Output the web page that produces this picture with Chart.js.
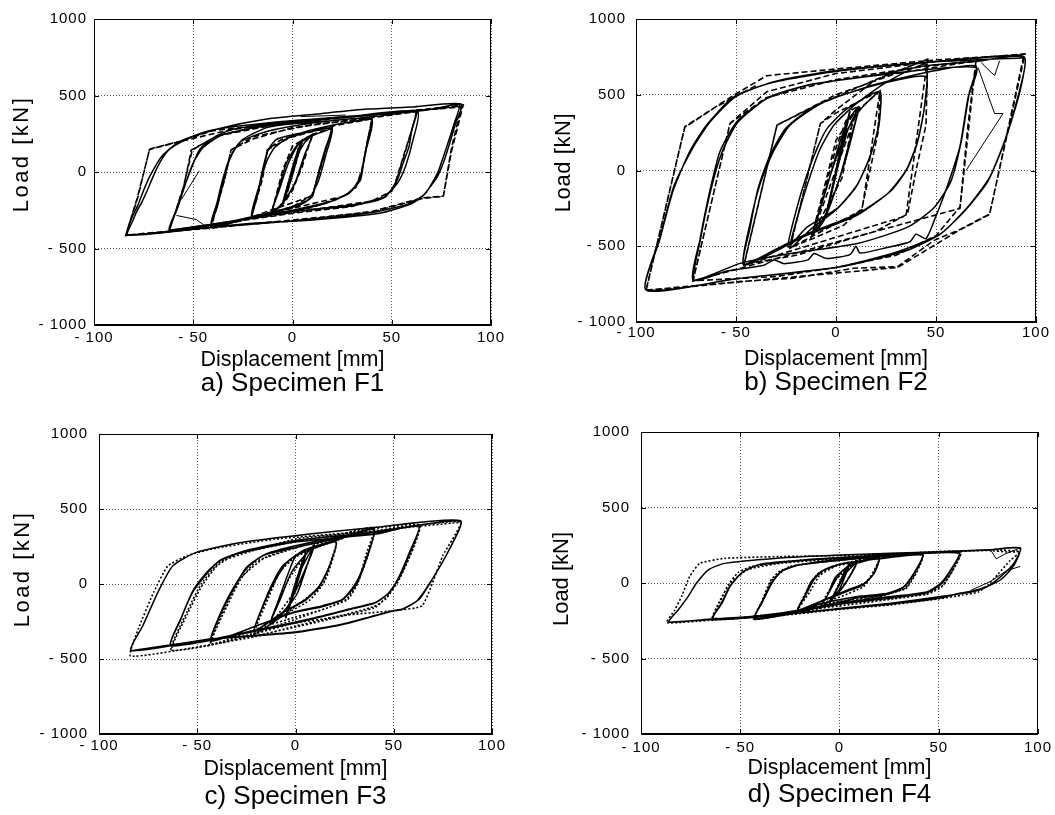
<!DOCTYPE html>
<html>
<head>
<meta charset="utf-8">
<script src="https://cdn.jsdelivr.net/npm/chart.js@4.4.1/dist/chart.umd.min.js"></script>
<style>
  html, body { margin: 0; padding: 0; background: #fff; }
  #wrap { position: relative; width: 1055px; height: 815px; overflow: hidden; }
  canvas { position: absolute; }
</style>
</head>
<body>
<div id="wrap">
  <canvas id="cA" width="520" height="400" style="left:0;top:0"></canvas>
  <canvas id="cB" width="535" height="400" style="left:520px;top:0"></canvas>
  <canvas id="cC" width="520" height="405" style="left:0;top:410px"></canvas>
  <canvas id="cD" width="535" height="405" style="left:520px;top:410px"></canvas>
</div>
<script>
// ---------------- DATA (displacement mm, load kN) ----------------
const xTicks = [-100, -50, 0, 50, 100];
const yTicks = [-1000, -500, 0, 500, 1000];
const captions = ['a) Specimen F1', 'b) Specimen F2', 'c) Specimen F3', 'd) Specimen F4'];

// Specimen F1 - test (solid)
const f1Test = [
 [0,0],[2,90],[4,170],[5,200],[3,120],[0,-20],[-3,-140],[-5,-205],[-3,-110],[0,30],[3,150],[5,205],[2,80],[-2,-100],[-5,-210],
 [-2,-80],[2,90],[6,190],[10,238],[7,140],[3,-20],[-3,-170],[-7,-235],[-10.5,-265],[-7,-130],[-2,60],[3,180],[10,242],[6,110],[1,-80],[-5,-200],[-10.5,-268],
 [-7,-110],[-3,60],[2,170],[8,225],[14,258],[20,280],[17,170],[14,40],[12,-60],[10,-161],[4,-215],[-6,-252],[-14,-275],[-20.6,-289],
 [-18,-170],[-15,20],[-12,150],[-8,214],[0,243],[10,265],[20,285],[17,120],[13,-60],[8,-180],[0,-225],[-10,-262],[-20.6,-292],
 [-17,-100],[-13,70],[-9,160],[-3,218],[6,262],[20,305],[30,328],[40,342],[38,220],[36,80],[34.3,-52],[30,-115],[26.8,-150],[18,-200],[10,-227],[0,-255],[-10,-275],[-20,-292],[-30,-320],[-41,-355],
 [-38,-230],[-35,-70],[-32,70],[-29,149],[-25,214],[-13,290],[0,315],[20,335],[40,345],[37,140],[34,-40],[29,-130],[20,-190],[0,-250],[-20,-295],[-41,-358],
 [-38,-200],[-35,-40],[-31,110],[-26,200],[-13,265],[10,320],[35,355],[50,375],[62,400],[60,270],[58.7,166],[55.5,50],[52.8,-52],[47,-161],[40,-195],[30,-216],[10,-245],[-6.8,-270],[-30,-320],[-45,-350],[-62,-376],
 [-58.5,-250],[-56.8,-179],[-51.8,-4],[-46.7,149],[-38.3,236],[-29.8,280],[0,330],[30,365],[63,395],[60.5,200],[57,40],[53,-70],[46,-165],[30,-222],[0,-258],[-20,-300],[-40,-345],[-62,-380],
 [-58,-240],[-54,-80],[-50,60],[-45,160],[-35,245],[-10,310],[20,350],[50,385],[70,410],[84,440],[81,300],[78.8,209],[76,100],[73,-9],[67,-139],[60.4,-205],[43.6,-270],[10,-314],[-20,-335],[-50,-370],[-83,-410],
 [-80.5,-320],[-78.8,-267],[-76,-200],[-73.7,-136],[-68.6,17],[-65,100],[-61.9,149],[-53.5,214],[-38.3,280],[-13,346],[12.3,379],[37.6,411],[60,425],[85,444],
 [82,310],[79,180],[76,60],[73,-30],[66,-150],[58,-210],[40,-265],[0,-320],[-40,-360],[-83,-412],
 [-81,-300],[-78,-220],[-75,-120],[-72,-30],[-66,100],[-57,198],[-40.4,275],[-6.8,329],[26.8,362],[60.4,394],[85,432]
];
// Specimen F1 - analysis (dashed)
const f1Model = [
 [0,0],[4,180],[5,208],[-3,-150],[-5,-208],[3,155],[5,212],
 [8,230],[10,242],[5,40],[0,-120],[-4,-200],[-10.5,-265],[-5,10],[0,170],[10,246],
 [14,262],[20,288],[15,70],[10,-150],[0,-228],[-10,-260],[-20.6,-292],[-15,-40],[-12.7,144],[-1.8,222],[10,265],[20,292],[15,60],[10,-155],[-20.6,-295],
 [-15,-10],[-12.7,144],[-6,210],[10,270],[20,300],[40,348],[35,20],[32,-100],[27,-150],[10,-232],[-10,-275],[-41,-360],
 [-34,-40],[-31,144],[-20,215],[0,290],[20,322],[40,350],[35,10],[32,-100],[27,-155],[-41,-362],
 [-34,-40],[-31,144],[-20,230],[10,310],[40,355],[63,395],[57,150],[52,-60],[50.3,-118],[45,-168],[30,-225],[0,-270],[-30,-325],[-62,-380],
 [-55,-110],[-51,144],[-38,236],[-20,290],[20,350],[63,398],[57,140],[52,-70],[50,-125],[40,-190],[0,-265],[-62,-382],
 [-55,-100],[-50.5,144],[-38,236],[-10,305],[30,360],[60,400],[85,425],[80,150],[76,-157],[66,-168],[40,-258],[0,-320],[-40,-362],[-84,-412],
 [-78,-170],[-72,150],[-57,200],[-40,270],[0,330],[40,375],[70,415],[86,438],[80,130],[76,-160],[66,-172],[40,-262],[-40,-365],[-84,-415],
 [-78,-160],[-72,148],[-58,195],[-30,280],[0,320]
];
const f1Extra = [
 [-58.5,-284],[-48.4,-311],[-41.6,-376], null,
 [-56,-180],[-47,7], null,
 [4,362],[26.8,372]
];

// Specimen F2 - test (solid)
const f2Test = [
 [0,0],[3,200],[7,390],[3,160],[-1,-60],[-5,-290],[-2,-120],[2,120],[7,392],[2,90],[-5,-300],
 [-2,-140],[2,80],[6,270],[11.5,419],[9,280],[5,80],[0,-120],[-6,-310],[-12,-425],[-8,-260],[-3,-40],[2,190],[6,330],[11.5,422],[7,200],[2,-40],[-6,-330],[-12,-428],
 [-9,-300],[-5,-120],[0,80],[5,250],[12,400],[22,518],[21.5,300],[17.3,104],[10.7,-91],[1.1,-244],[-14.5,-374],[-24,-505],
 [-19.5,-244],[-14.5,-26],[-9.4,148],[-4.4,278],[5.6,408],[22,520],[21,280],[17,90],[10,-110],[0,-260],[-12,-380],[-23,-510],
 [-18,-250],[-13,-40],[-8,140],[-1,300],[10,440],[25,580],[45,700],[44.1,408],[40.8,190],[35.8,16],[27.4,-135],[10.7,-287],[-14.5,-417],[-30,-520],[-46.3,-618],
 [-43,-352],[-38,-91],[-31.3,126],[-22.9,300],[-6.1,452],[19,561],[45,620],[44,400],[40.5,180],[35,0],[26,-150],[10,-300],[-15,-430],[-46,-625],
 [-43,-380],[-39,-120],[-33,100],[-25,280],[-10,430],[20,570],[50,660],[70,690],[66.7,517],[62.6,190],[57.5,-70],[49.1,-244],[35.8,-374],[10.7,-482],[-22.9,-548],[-48,-613],[-71.5,-722],
 [-68.1,-461],[-63.1,-135],[-58,126],[-49.6,322],[-34.6,474],[-14.5,561],[19,626],[70,680],[66,480],[62,160],[56,-90],[50,-300],[45,-450],[40,-420],[37,-470],[25,-510],[12,-545],[10,-500],[7,-555],[-5,-580],[-11,-548],[-14,-590],[-26,-615],[-31,-590],[-36,-625],[-55,-665],[-71,-725],
 [-68,-470],[-63,-150],[-57,120],[-49,320],[-34,480],[-14,565],[20,630],[44.1,690],[70,720],[94,752],
 [91.9,517],[84.3,190],[76,-70],[65.9,-244],[52.5,-417],[35.8,-526],[2.3,-635],[-48,-711],[-95,-787],
 [-88.2,-461],[-81.5,-135],[-73.1,126],[-64.7,300],[-51.4,484],[-31.3,582],[2.3,658],[44.1,712],[94,750],
 [92,540],[85,220],[77,-40],[66,-240],[52,-420],[30,-540],[0,-640],[-50,-715],[-95,-790],
 [-88,-440],[-81,-100],[-72,140],[-63,320],[-50,490],[-30,590],[0,660],[45,715],[94,745]
];
// Specimen F2 - analysis (dashed)
const f2Model = [
 [0,0],[7,395],[-5,-300],[7,395],
 [11.5,425],[8,300],[3,-50],[-12,-428],[-6,-120],[0,200],[11.5,425],[-12,-430],
 [-5,-100],[0,150],[5,330],[22,525],[21,250],[13,-250],[3.9,-361],[-10,-440],[-23,-510],[-7.8,310],[0,380],[22,525],[13,-260],[-23,-512],
 [-7.8,310],[0,400],[20,600],[45.8,734],[45,300],[40,0],[35.8,-287],[20,-400],[0,-480],[-20,-560],[-46,-620],[-29.5,300],[-7.8,442],[20,600],[45.8,734],[35,-300],[-46,-625],
 [-29.5,300],[0,500],[30,640],[70,724],[66,300],[62,-240],[50,-430],[30,-560],[0,-640],[-30,-700],[-71.5,-728],[-53,310],[-35,480],[0,600],[40,680],[70,726],[62,-250],[-71.5,-730],
 [-53,310],[-34.6,520],[0,640],[50,720],[94.5,770],[76.8,-287],[60.9,-396],[49.1,-461],[30.8,-635],[8.9,-645],[-21.2,-711],[-48,-733],[-95,-790],
 [-75.6,289],[-51.4,495],[-34.6,626],[0,670],[50,730],[94,765],[76.8,-290],[60.9,-400],[30.8,-640],[-48,-735],[-95,-795],
 [-75.6,285],[-60,420],[-40,560]
];
const f2Extra = [
 [71,680],[79.3,376],[83.5,376],[65,0], null,
 [72.6,712],[79.3,626],[81.8,724]
];

// Specimen F3 - test (solid)
const f3Test = [
 [0,0],[3,130],[5,190],[0,-20],[-5,-220],[0,10],[5,195],[0,-30],[-5,-225],
 [-2,-100],[3,100],[9.2,250],[6,130],[1,-60],[-6,-190],[-13,-265],[-8,-110],[-2,80],[4,180],[9.5,255],[3,40],[-4,-150],[-13,-268],
 [-9,-120],[-4,60],[0.3,189],[10.5,244],[20.7,278],[17.3,122],[12.2,-11],[5.4,-100],[-6.5,-189],[-20.9,-311],[-16.6,-144],[-11.5,11],[-6.5,122],[0.3,189],[10.5,244],[20.7,280],[17,110],[12,-20],[5,-110],[-7,-195],[-21,-315],
 [-16,-130],[-10,30],[-4,150],[5,230],[20,290],[40,365],[35.9,167],[30.9,11],[24.1,-100],[13.9,-144],[-1.4,-189],[-17.3,-267],[-42.9,-378],[-38.7,-211],[-31.9,-33],[-25.1,100],[-16.6,189],[0.3,244],[24.1,311],[40,368],[36,160],[31,0],[24,-105],[14,-150],[-2,-195],[-18,-270],[-43,-380],
 [-38,-200],[-31,-20],[-25,110],[-15,200],[0,255],[25,320],[45,350],[62.8,384],[58,211],[52.9,55],[47.8,-55],[41.1,-122],[30.9,-155],[7.1,-233],[-17.3,-300],[-63.3,-410],[-58.3,-233],[-52.3,-55],[-45.3,67],[-38.7,155],[-26.8,211],[-1.4,278],[41.1,333],[62.8,388],[58,200],[53,45],[47,-65],[40,-128],[30,-162],[7,-238],[-17,-305],[-63.3,-412],
 [-58,-220],[-52,-40],[-45,80],[-38,160],[-26,220],[0,290],[40,345],[84,420],[78.4,233],[70.7,55],[63.1,-100],[54.6,-167],[49.5,-178],[24.1,-267],[-1.4,-322],[-43.8,-367],[-83.6,-444],[-77.7,-278],[-69.2,-33],[-62.4,122],[-50.5,211],[-26.8,278],[7.1,333],[41.1,378],[84,422],[78,225],[70,40],[62,-110],[54,-170],[49.5,-180],[24,-270],[-1,-325],[-44,-370],[-84,-446]
];
// Specimen F3 - analysis (dashed)
const f3Model = [
 [0,0],[5,200],[-5,-225],[5,205],[9.5,258],[2,0],[-13,-270],[-4,20],[9.5,260],
 [20.7,282],[18,150],[14,0],[7,-110],[-5,-200],[-21,-330],[-14,-100],[-8,80],[0,180],[20.7,285],[14,0],[-21,-335],
 [-13,-40],[-6,120],[5,220],[20,285],[40,372],[36,200],[32,20],[26,-100],[15,-165],[0,-220],[-20,-300],[-43,-400],[-35,-150],[-28,30],[-20,150],[0,240],[40,375],[32,15],[26,-110],[-43,-405],
 [-35,-130],[-28,40],[-15,180],[10,280],[40,350],[63,392],[58,180],[52,20],[46,-100],[40,-150],[20,-220],[0,-260],[-20,-330],[-40,-400],[-63,-440],[-55,-200],[-48,-20],[-40,120],[-30,200],[0,280],[63,395],[52,10],[40,-160],[-63,-445],
 [-55,-180],[-48,0],[-38,150],[0,300],[40,350],[84,415],[75,190],[64.5,-144],[49.5,-178],[24,-211],[0,-280],[-20,-350],[-50,-420],[-84,-480],
 [-80,-300],[-72,-50],[-65,120],[-55,190],[-40,240],[-10,300],[40,355],[84,412]
];
const f3Extra = [];

// Specimen F4 - test (solid)
const f4Test = [
 [0,0],[3,90],[5,120],[0,-40],[-5,-130],[0,-10],[5,125],[-5,-135],
 [-2,-60],[3,60],[9,141],[6,60],[1,-40],[-4,-110],[-10,-165],[-6,-80],[-1,40],[4,110],[9,143],[4,20],[-3,-100],[-10,-168],
 [-6,-80],[-2,40],[4,105],[10,135],[20,163],[17.5,64],[12.5,-2],[4.1,-46],[-5.9,-101],[-21,-178],[-17.7,-90],[-14.3,9],[-9.3,75],[-0.9,119],[10,145],[20,165],[17,55],[12,-10],[4,-55],[-6,-105],[-21,-180],
 [-17,-80],[-13,20],[-8,85],[0,125],[20,160],[41.8,185],[37.6,64],[32.6,-24],[24.2,-68],[9.1,-90],[-10,-140],[-20,-185],[-42.8,-234],[-39.4,-134],[-34.4,-2],[-29.4,75],[-21,119],[0.75,152],[20,172],[41.8,188],[37,55],[32,-30],[24,-75],[9,-100],[-20,-190],[-42.8,-236],
 [-39,-130],[-34,0],[-29,80],[-20,120],[0,155],[30,185],[60.2,197],[56,86],[51,-2],[44.3,-57],[25.9,-90],[0,-130],[-30,-200],[-63.7,-234],[-59.5,-134],[-55.4,-24],[-49.5,64],[-41.1,119],[-16,152],[17.5,179],[60.2,200],[56,80],[51,-10],[44,-65],[26,-100],[0,-140],[-30,-205],[-63.7,-238],
 [-59,-130],[-55,-20],[-49,70],[-40,125],[-16,155],[17,182],[50,205],[75,219],[91.2,232],[87.8,130],[81.2,42],[74.5,-24],[67.7,-57],[51,-90],[25.9,-134],[0.75,-168],[-32.8,-212],[-66.2,-240],[-86,-258],
 [-81.3,-179],[-76.3,-90],[-72.1,-2],[-66.2,86],[-57.9,130],[-32.8,163],[0.75,185],[51,207],[76,220],[91,230],[88,120],[82,30],[75,-20],[68,-50],[60,-70],[51,-100],[26,-140],[0,-172],[-33,-215],[-66,-243],[-86,-260]
];
// Specimen F4 - analysis (dashed)
const f4Model = [
 [0,0],[5,125],[-5,-135],[5,128],[9,145],[2,-20],[-10,-170],[-2,20],[9,146],
 [20,168],[17,60],[11,-20],[0,-70],[-21,-182],[-16,-40],[-11,60],[-2,115],[20,170],[12,-25],[-21,-185],
 [-15,-60],[-10,50],[-2,110],[20,165],[42,190],[38,60],[33,-35],[20,-90],[0,-120],[-20,-190],[-43,-240],[-39,-120],[-35,10],[-30,80],[-20,120],[0,150],[42,192],[33,-40],[-43,-242],
 [-38,-100],[-34,20],[-25,110],[0,150],[30,185],[61,202],[57,80],[52,-15],[44,-70],[26,-105],[0,-140],[-30,-210],[-64,-240],[-60,-120],[-56,-10],[-51,70],[-44,110],[-20,150],[20,182],[61,205],[52,-20],[44,-75],[-64,-245],
 [-60,-110],[-55,0],[-46,90],[-30,130],[0,160],[50,205],[75,215],[85,205],[91,205],[86,150],[80,60],[75,-10],[70,-60],[62,-80],[50,-105],[26,-145],[0,-175],[-33,-220],[-66,-248],[-87,-262],
 [-83,-179],[-79.6,-90],[-75.5,42],[-70.4,130],[-57.9,163],[-30,175],[0,182],[50,205],[78,220],[91,210]
];
const f4Extra = [
 [66,-50],[76,10],[84,80],[91,110], null,
 [76,222],[79,160],[83,190],[91,232]
];

// ---------------- RENDERING ----------------
const FONT = "'Liberation Sans', Arial, Helvetica, sans-serif";
const toPts = arr => arr.map(p => p ? {x: p[0], y: p[1]} : {x: null, y: null});
const fmt = v => (v < 0 ? '- ' + Math.abs(v) : String(v));

const framePlugin = {
  id: 'frameTicks',
  afterDatasetsDraw(chart) {
    const {ctx, chartArea: a, scales: {x, y}} = chart;
    ctx.save();
    ctx.strokeStyle = '#000';
    ctx.lineWidth = 1;
    ctx.setLineDash([]);
    ctx.strokeRect(Math.round(a.left) + 0.5, Math.round(a.top) + 0.5,
                   Math.round(a.right - a.left) - 1, Math.round(a.bottom - a.top) - 1);
    ctx.beginPath();
    x.ticks.forEach(t => {
      const px = Math.round(x.getPixelForValue(t.value)) + 0.5;
      ctx.moveTo(px, a.bottom); ctx.lineTo(px, a.bottom - 5);
      ctx.moveTo(px, a.top); ctx.lineTo(px, a.top + 5);
    });
    y.ticks.forEach(t => {
      const py = Math.round(y.getPixelForValue(t.value)) + 0.5;
      ctx.moveTo(a.left, py); ctx.lineTo(a.left + 5, py);
      ctx.moveTo(a.right, py); ctx.lineTo(a.right - 5, py);
    });
    ctx.stroke();
    ctx.restore();
  }
};

const textPlugin = {
  id: 'textStyle',
  beforeDraw(chart, args, opts) {
    const ctx = chart.ctx;
    Object.values(chart.scales).forEach(s => {
      if (s._styled) return;
      s._styled = true;
      const dl = s.drawLabels, dt = s.drawTitle;
      s.drawLabels = function (area) {
        ctx.save(); ctx.letterSpacing = opts.tickSpacing; dl.call(this, area); ctx.restore();
      };
      s.drawTitle = function () {
        ctx.save();
        if (this.axis === 'y') { ctx.letterSpacing = opts.ySpacing; ctx.translate(0, opts.yShift); }
        dt.call(this);
        ctx.restore();
      };
    });
  }
};

function makePanel(cfg) {
  const datasets = [
    {data: toPts(cfg.test), borderColor: '#000', borderWidth: 1.5, tension: 0.2, showLine: true, pointRadius: 0, order: 2},
    {data: toPts(cfg.model), borderColor: '#000', borderWidth: 1.6, borderDash: cfg.dash, tension: cfg.modelTension, showLine: true, pointRadius: 0, order: 1},
    {data: toPts(cfg.extra), borderColor: '#000', borderWidth: 1, tension: 0, showLine: true, pointRadius: 0, spanGaps: false, order: 3}
  ];
  new Chart(document.getElementById(cfg.id), {
    type: 'scatter',
    data: {datasets},
    plugins: [framePlugin, textPlugin],
    options: {
      responsive: false,
      animation: false,
      events: [],
      layout: {padding: cfg.pad},
      plugins: {
        legend: {display: false},
        tooltip: {enabled: false},
        title: {
          display: true, position: 'bottom', fullSize: false, text: cfg.caption,
          color: '#000', padding: 0,
          font: {family: FONT, size: 26, weight: 'normal', lineHeight: 1}
        },
        textStyle: {tickSpacing: '1px', ySpacing: cfg.ySpacing, yShift: cfg.yShift}
      },
      scales: {
        x: {
          type: 'linear', position: 'bottom', min: -100, max: 100,
          afterBuildTicks: s => { s.ticks = xTicks.map(v => ({value: v})); },
          afterFit: s => { s.height = cfg.xH; },
          ticks: {callback: fmt, color: '#000', padding: cfg.xTickPad, maxRotation: 0, autoSkip: false,
                  font: {family: FONT, size: 15}, z: 1},
          grid: {color: '#555', lineWidth: 1, drawTicks: false},
          border: {display: true, color: '#000', width: 1, dash: [1, 2]},
          title: {display: true, text: 'Displacement [mm]', color: '#000',
                  font: {family: FONT, size: 21.5, lineHeight: 1}, padding: {top: 0, bottom: cfg.xTitlePad}}
        },
        y: {
          type: 'linear', position: 'left', min: -1000, max: 1000,
          afterBuildTicks: s => { s.ticks = yTicks.map(v => ({value: v})); },
          afterFit: s => { s.width = cfg.yW; },
          ticks: {callback: fmt, color: '#000', padding: cfg.yTickPad, autoSkip: false,
                  font: {family: FONT, size: 15}, z: 1},
          grid: {color: '#555', lineWidth: 1, drawTicks: false},
          border: {display: true, color: '#000', width: 1, dash: [1, 2]},
          title: {display: true, text: 'Load [kN]', color: '#000',
                  font: {family: FONT, size: 22, lineHeight: 1}, padding: {top: cfg.yTitlePad, bottom: 0}}
        }
      }
    }
  });
}

const panels = [
  {id: 'cA', caption: captions[0], test: f1Test, model: f1Model, extra: f1Extra, dash: [6, 3], modelTension: 0,
   pad: {left: 0, top: 19, right: 29, bottom: 3.5}, yW: 94, xH: 45.5, yTickPad: 7, xTickPad: 3.5,
   yTitlePad: 11, xTitlePad: 0, ySpacing: '2.5px', yShift: -18},
  {id: 'cB', caption: captions[1], test: f2Test, model: f2Model, extra: f2Extra, dash: [6, 3], modelTension: 0,
   pad: {left: 0, top: 15, right: 19, bottom: 4}, yW: 116, xH: 48, yTickPad: 10, xTickPad: 1.5,
   yTitlePad: 32.5, xTitlePad: 0, ySpacing: '0.6px', yShift: -8},
  {id: 'cC', caption: captions[2], test: f3Test, model: f3Model, extra: f3Extra, dash: [2, 2], modelTension: 0.15,
   pad: {left: 0, top: 24, right: 28, bottom: 5.5}, yW: 99, xH: 49.5, yTickPad: 11, xTickPad: 3,
   yTitlePad: 11.5, xTitlePad: 3.75, ySpacing: '2.5px', yShift: -15},
  {id: 'cD', caption: captions[3], test: f4Test, model: f4Model, extra: f4Extra, dash: [2, 2], modelTension: 0.15,
   pad: {left: 0, top: 22, right: 15.5, bottom: 7}, yW: 121, xH: 48, yTickPad: 11, xTickPad: 4.5,
   yTitlePad: 30.5, xTitlePad: 3.25, ySpacing: '0px', yShift: -4}
];
panels.forEach(makePanel);
</script>
</body>
</html>
